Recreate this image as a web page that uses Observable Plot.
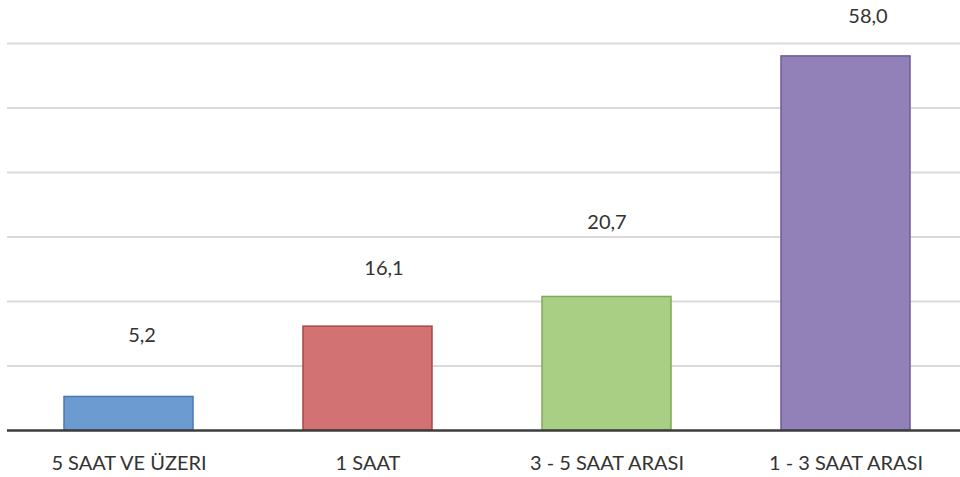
<!DOCTYPE html>
<html>
<head>
<meta charset="utf-8">
<script src="https://cdn.jsdelivr.net/npm/d3@7"></script>
<script src="https://cdn.jsdelivr.net/npm/@observablehq/plot@0.6"></script>
<style>
  html, body { margin: 0; padding: 0; background: #fff; overflow: hidden; }
  svg { display: block; }
</style>
</head>
<body>
<div id="chart"></div>
<script>
const categories = ["5 SAAT VE ÜZERI", "1 SAAT", "3 - 5 SAAT ARASI", "1 - 3 SAAT ARASI"];
const values = [5.2, 16.1, 20.7, 58.0];
const gridTicks = [10, 20, 30, 40, 50, 60];

// styling (not data)
const fills = ["#6b9bd1", "#d27272", "#a9cf84", "#9281b9"];
const strokes = ["#4a78b4", "#a94646", "#7fa95a", "#6e5b99"];
const labelNudge = [[13, -61], [16, -58], [0, -74], [22, -40]];

const data = categories.map((c, i) => ({cat: c, value: values[i], fill: fills[i], stroke: strokes[i]}));
const fmt = v => v.toFixed(1).replace(".", ",");

const FONT = "Lato, 'Open Sans', sans-serif";

const chart = Plot.plot({
  width: 960,
  height: 477,
  marginTop: 43,
  marginBottom: 47,
  marginLeft: 9,
  marginRight: -6,
  style: {fontFamily: FONT, fontSize: "20px", color: "#333"},
  x: {domain: categories, paddingInner: 0.46, paddingOuter: 0.23, label: null, tickSize: 0, tickPadding: 25},
  y: {domain: [0, 60], axis: null},
  marks: [
    Plot.ruleY(gridTicks, {stroke: "#d9d9d9", strokeWidth: 2, insetLeft: -2}),
    Plot.barY(data, {x: "cat", y: "value", fill: d => d.fill, stroke: d => d.stroke, strokeWidth: 1.5}),
    Plot.ruleY([0], {stroke: "#3d3d3d", strokeWidth: 2.5, insetLeft: -2}),
    ...data.map((d, i) => Plot.text([d], {
      x: "cat", y: "value", text: e => fmt(e.value),
      dx: labelNudge[i][0], dy: labelNudge[i][1],
      fill: "#333", fontSize: 20
    }))
  ]
});
document.getElementById("chart").appendChild(chart);
</script>
</body>
</html>
